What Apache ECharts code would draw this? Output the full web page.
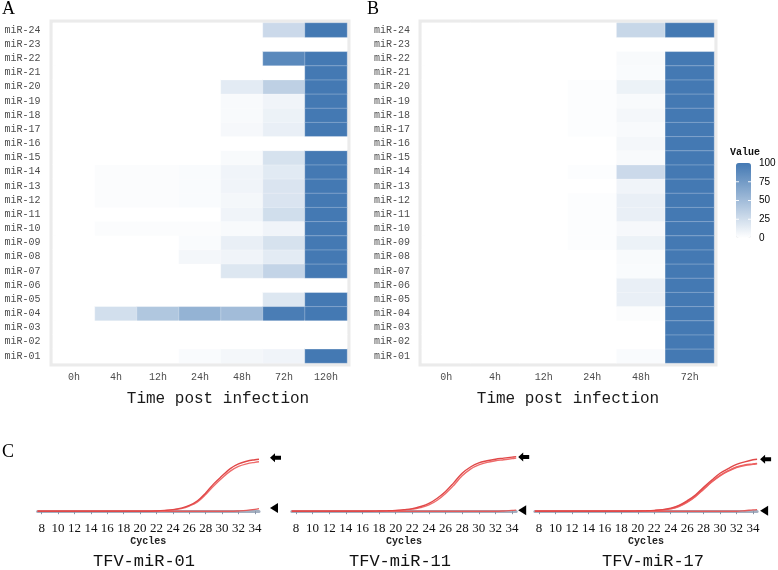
<!DOCTYPE html>
<html><head><meta charset="utf-8">
<script src="https://cdn.jsdelivr.net/npm/echarts/dist/echarts.min.js"></script>
<style>html,body{margin:0;padding:0;background:#fff}#c{width:778px;height:570px}</style>
</head><body><div id="c"></div>
<script>
// ---------- data ----------
const mirs = ['miR-01','miR-02','miR-03','miR-04','miR-05','miR-06','miR-07','miR-08','miR-09','miR-10','miR-11','miR-12',
              'miR-13','miR-14','miR-15','miR-16','miR-17','miR-18','miR-19','miR-20','miR-21','miR-22','miR-23','miR-24'];
const timesA = ['0h','4h','12h','24h','48h','72h','120h'];
const timesB = ['0h','4h','12h','24h','48h','72h'];

// Panel A (one array per time point, miR-01 .. miR-24)
const a0h   = [0,0,0,0,0,0,0,0,0,0,0,0,0,0,0,0,0,0,0,0,0,0,0,0];
const a4h   = [0,0,0,24,0,0,0,0,0,2,0,2,2,2,0,0,0,0,0,0,0,0,0,0];
const a12h  = [0,0,0,42,0,0,0,0,0,2,0,2,2,2,0,0,0,0,0,0,0,0,0,0];
const a24h  = [3,0,0,57,0,0,0,6,3,2,0,3,3,3,0,0,0,0,0,0,0,0,0,0];
const a48h  = [6,0,0,50,0,0,18,8,12,4,8,6,8,8,4,0,5,4,4,15,0,0,0,0];
const a72h  = [8,0,0,97,18,0,32,15,22,8,25,20,20,16,22,0,12,10,8,35,0,88,0,28];
const a120h = [100,0,0,100,100,0,100,100,100,100,100,100,100,100,100,0,100,100,100,100,100,100,0,100];

// Panel B
const b0h  = [0,0,0,0,0,0,0,0,0,0,0,0,0,0,0,0,0,0,0,0,0,0,0,0];
const b4h  = [0,0,0,0,0,0,0,0,0,0,0,0,0,0,0,0,0,0,0,0,0,0,0,0];
const b12h = [0,0,0,0,0,0,0,0,0,0,0,0,0,0,0,0,0,0,0,0,0,0,0,0];
const b24h = [0,0,0,0,0,0,0,0,1.5,1.5,1.5,1.5,0,1.5,0,0,1.5,1.5,1.5,1.5,0,0,0,0];
const b48h = [3,0,0,2,12,12,3,4,10,5,12,12,8,28,4,6,4,6,4,10,3,4,0,30];
const b72h = [100,100,100,100,100,100,100,100,100,100,100,100,100,100,100,100,100,100,100,100,100,100,0,100];

// Panel C: amplification curves (relative fluorescence) per cycle
const cycles = [7.5,8,9,10,11,12,13,14,15,16,17,18,19,20,21,22,23,24,25,26,27,28,29,30,31,32,33,34,34.5];
const cycleTicks = [8,10,12,14,16,18,20,22,24,26,28,30,32,34];
const mir01a   = [0,0,0,0,0,0,0,0,0,0,0,0,0,0,0,0.5,1.5,3,6,11,20,35,53,68,82,91,96,99,100];
const mir01b   = [0,0,0,0,0,0,0,0,0,0,0,0,0,0,0,0.3,1,2.5,5,10,18,32,49,64,77,86,91,94,95];
const mir01neg = [0,0,0,0,0,0,0,0,0,0,0,0,0,0,0,0,0,0,0,0,0,0,0,0,0,0.5,1.5,3.5,5];
const mir11a   = [0,0,0,0,0,0,0,0,0,0,0,0.3,0.7,1.5,3,5,9,15,25,38,55,73,85,93,97,100,102,104,105];
const mir11b   = [0,0,0,0,0,0,0,0,0,0,0,0,0,1,2,4,7,12,21,34,50,68,81,89,94,97,99,101,102];
const mir11neg = [0,0,0,0,0,0,0,0,0,0,0,0,0,0,0,0,0,0,0,0,0,0,0,0,0,0,0.5,1.5,2];
const mir17a   = [0,0,0,0,0,0,0,0,0,0,0,0,0,0.3,0.7,1.5,3,6,11,20,31,46,60,73,82,90,95,99,100];
const mir17b   = [0,0,0,0,0,0,0,0,0,0,0,0,0,0,0.5,1,2.5,5,10,18,29,43,57,69,78,85,89,91,92];
const mir17c   = [0,0,0,0,0,0,0,0,0,0,0,0,0,0,0,1,2,4.5,9,17,28,42,56,68,77,84,88,90,91];
const mir17neg = [0,0,0,0,0,0,0,0,0,0,0,0,0,0,0,0,0,0,0,0,0,0,0,0,0,0,1,2.5,3];
const legendTicks = [0,25,50,75,100];

// ---------- build ----------
const colsA = [a0h,a4h,a12h,a24h,a48h,a72h,a120h];
const colsB = [b0h,b4h,b12h,b24h,b48h,b72h];
function tiles(cols){ const d=[]; cols.forEach((col,ti)=>col.forEach((v,ri)=>d.push([ti,ri,v]))); return d; }
function pts(arr){ return cycles.map((c,i)=>[c,arr[i]]); }

const MONO = '"Liberation Mono", "DejaVu Sans Mono", monospace';
const SERIF = '"Liberation Serif", "DejaVu Serif", serif';

function heatX(idx, data, padLeft){
  return {type:'category', gridIndex:idx, data:data, position:'bottom', offset:3.5,
    axisLine:{show:false}, axisTick:{length:3, alignWithLabel:true, lineStyle:{color:'#333'}},
    axisLabel:{fontFamily:MONO, fontSize:10, color:'#4d4d4d', margin:6},
    splitLine:{show:false},
    name:'Time post infection', nameLocation:'middle', nameGap:24,
    nameTextStyle:{fontFamily:MONO, fontSize:16, color:'#1a1a1a', padding:[0,0,0,padLeft]}};
}
function heatY(idx, margin){
  return {type:'category', gridIndex:idx, data:mirs, offset:3.5,
    axisLine:{show:false}, axisTick:{length:3, lineStyle:{color:'#333'}},
    axisLabel:{fontFamily:MONO, fontSize:10, color:'#4d4d4d', margin:margin},
    splitLine:{show:false}};
}
function pcrX(idx){
  return {type:'value', gridIndex:idx, min:7.5, max:34.5,
    axisLine:{lineStyle:{color:'#a3afc0', width:3}},
    axisTick:{customValues:cycleTicks, length:3, lineStyle:{color:'#8895a8'}},
    axisLabel:{customValues:cycleTicks, fontFamily:SERIF, fontSize:13, color:'#111', margin:3},
    splitLine:{show:false},
    name:'Cycles', nameLocation:'middle', nameGap:17,
    nameTextStyle:{fontFamily:MONO, fontSize:10, fontWeight:'bold', color:'#222'}};
}
function pcrY(idx){ return {type:'value', gridIndex:idx, min:-15, max:110, show:false}; }
function curve(idx, arr, color){
  return {type:'line', xAxisIndex:idx, yAxisIndex:idx, data:pts(arr), showSymbol:false, smooth:0.4,
    lineStyle:{color:color, width:1.4}, silent:true, z:3};
}

const chart = echarts.init(document.getElementById('c'), null, {renderer:'canvas'});
const option = {
  animation:false,
  backgroundColor:'#fff',
  grid:[
    {left:53, top:23, width:294, height:340, show:true, backgroundColor:'#fff', borderColor:'#ebebeb', borderWidth:7},
    {left:422, top:23, width:292, height:340, show:true, backgroundColor:'#fff', borderColor:'#ebebeb', borderWidth:7},
    {left:37.6, top:454, width:221.4, height:65},
    {left:291.8, top:454, width:224.4, height:65},
    {left:534.9, top:454, width:222.2, height:65}
  ],
  xAxis:[heatX(0,timesA,36), heatX(1,timesB,0), pcrX(2), pcrX(3), pcrX(4)],
  yAxis:[heatY(0,9), heatY(1,8.5), pcrY(2), pcrY(3), pcrY(4)],
  visualMap:{type:'continuous', min:0, max:100, seriesIndex:[0,1], calculable:false, text:null,
    left:736, top:163, itemWidth:15, itemHeight:75, padding:0, hoverLink:false,
    inRange:{color:['#ffffff','#4479b3']}},
  series:[
    {type:'heatmap', xAxisIndex:0, yAxisIndex:0, data:tiles(colsA),
     itemStyle:{borderColor:'rgba(255,255,255,0.45)', borderWidth:0.6}},
    {type:'heatmap', xAxisIndex:1, yAxisIndex:1, data:tiles(colsB),
     itemStyle:{borderColor:'rgba(255,255,255,0.45)', borderWidth:0.6}},
    curve(2, mir01neg, '#e45a5a'), curve(2, mir01b, '#ee6b6b'), curve(2, mir01a, '#e04848'),
    curve(3, mir11neg, '#e45a5a'), curve(3, mir11b, '#ee6b6b'), curve(3, mir11a, '#e04848'),
    curve(4, mir17neg, '#e45a5a'), curve(4, mir17c, '#ee6b6b'), curve(4, mir17b, '#ec6060'), curve(4, mir17a, '#e04848')
  ]
};
chart.setOption(option);

// ---------- annotations ----------
const g = [];
g.push({type:'text', left:2, top:0, style:{text:'A', font:'18px '+SERIF, fill:'#000'}});
g.push({type:'text', left:367, top:0, style:{text:'B', font:'18px '+SERIF, fill:'#000'}});
g.push({type:'text', left:2, top:443, style:{text:'C', font:'18px '+SERIF, fill:'#000'}});
// legend
g.push({type:'text', left:730, top:147, style:{text:'Value', font:'bold 10px '+MONO, fill:'#111'}});
legendTicks.forEach(v=>{
  const y = 163 + 75*(1 - v/100);
  g.push({type:'text', x:759, y:y, style:{text:String(v), font:'10px "Liberation Sans", Arial, sans-serif', fill:'#000', verticalAlign:'middle'}});
  if (v>0 && v<100){
    g.push({type:'line', shape:{x1:736, y1:y, x2:739, y2:y}, style:{stroke:'rgba(255,255,255,0.9)', lineWidth:1}, z:10});
    g.push({type:'line', shape:{x1:748, y1:y, x2:751, y2:y}, style:{stroke:'rgba(255,255,255,0.9)', lineWidth:1}, z:10});
  }
});
// panel C titles
[['TFV-miR-01',144],['TFV-miR-11',400],['TFV-miR-17',653]].forEach(([t,x])=>{
  g.push({type:'text', x:x, y:561, style:{text:t, font:'17px '+MONO, fill:'#111', align:'center', verticalAlign:'middle'}});
});
// arrows marking positive (block arrow) and negative (triangle) curves
const arrowSpecs = [{grid:2, gap:11, top:103, bot:6}, {grid:3, gap:2, top:104, bot:2}, {grid:4, gap:3, top:100, bot:1}];
arrowSpecs.forEach(s=>{
  const p = chart.convertToPixel({gridIndex:s.grid}, [34.5, s.top]);
  const q = chart.convertToPixel({gridIndex:s.grid}, [34.5, s.bot]);
  const tx = p[0] + s.gap, ty = p[1];
  g.push({type:'polygon', z:20, shape:{points:[[tx,ty],[tx+5,ty-4.5],[tx+5,ty-2],[tx+11,ty-2],[tx+11,ty+2],[tx+5,ty+2],[tx+5,ty+4.5]]}, style:{fill:'#000'}});
  const ux = q[0] + s.gap, uy = q[1];
  g.push({type:'polygon', z:20, shape:{points:[[ux,uy],[ux+8,uy-5],[ux+8,uy+5]]}, style:{fill:'#000'}});
});
chart.setOption({graphic:g});
</script>
</body></html>
